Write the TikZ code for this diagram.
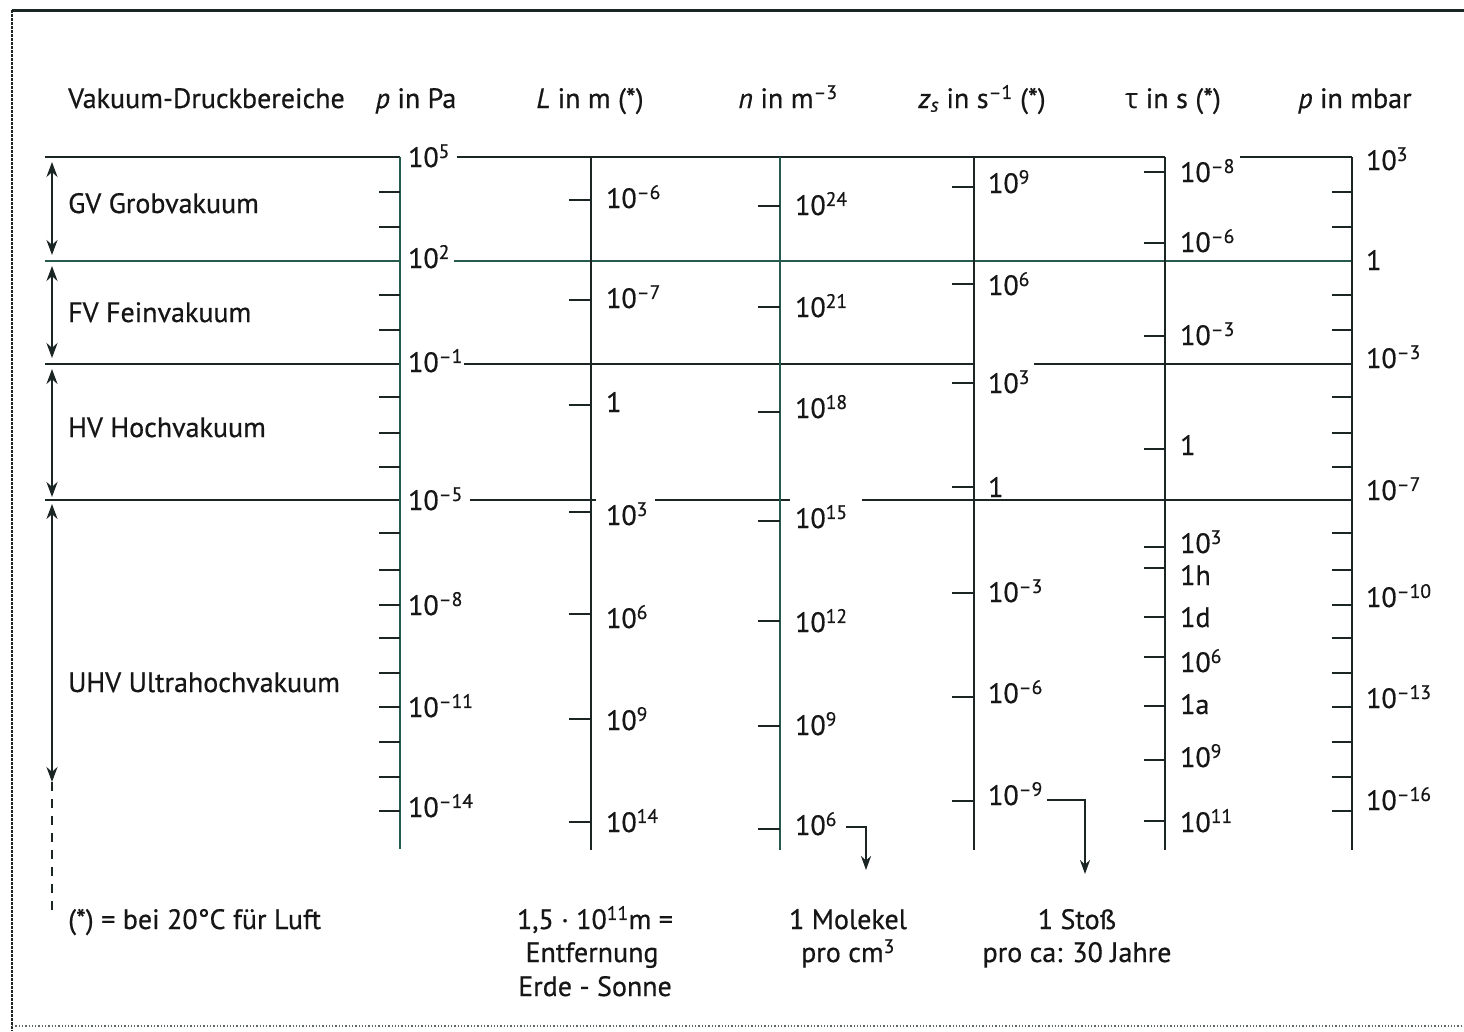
\documentclass[tikz,border=0pt]{standalone}
\usepackage{fontspec}
\setmainfont{PT Sans}[FakeBold=0.6]
\newfontfamily\grk{Open Sans}
\usetikzlibrary{arrows.meta}
\definecolor{ink}{HTML}{1B2523}
\definecolor{axgreen}{HTML}{275A4E}
\definecolor{txt}{HTML}{161616}
\newcommand\tp[1]{10\textsuperscript{#1}}
\tikzset{
  lbl/.style={anchor=base west, inner sep=0pt, text=txt, font=\fontsize{28}{33}\selectfont},
  ctr/.style={anchor=base, inner sep=0pt, text=txt, font=\fontsize{28}{33}\selectfont},
  axisline/.style={line width=2.8pt, draw=ink},
  tck/.style={line width=2.8pt, draw=ink},
  hline/.style={line width=2.4pt, draw=ink},
  rng/.style={line width=2.2pt, draw=ink, {Stealth[length=15pt,width=11pt]}-{Stealth[length=15pt,width=11pt]}},
  conn/.style={line width=2.2pt, draw=ink, -{Stealth[length=14pt,width=10pt]}},
}
\begin{document}
\begin{tikzpicture}[x=1pt,y=-1pt]
\useasboundingbox (0,0) rectangle (1464,1031);
\fill[white] (0,0) rectangle (1464,1031);
% frame
\draw[line width=3pt, ink] (12,10) -- (1464,10);
\draw[line width=1.8pt, ink, dash pattern=on 3pt off 1pt] (12,10) -- (12,1031);
\draw[line width=1.3pt, ink!70, dotted] (12,1026) -- (1464,1026);

% header
\node[lbl] (h0) at (68,108) {Vakuum-Druckbereiche};
\node[ctr] (h1) at (416,108) {\textit{p} in Pa};
\node[ctr] (h2) at (590,108) {\textit{L} in m (*)};
\node[ctr] (h3) at (788,108) {\textit{n} in m\textsuperscript{–3}};
\node[ctr] (h4) at (982,108) {\textit{z}\textsubscript{\textit{s}} in s\textsuperscript{–1} (*)};
\node[ctr] (h5) at (1173,108) {{\grk τ} in s (*)};
\node[ctr] (h6) at (1355,108) {\textit{p} in mbar};

% horizontal range lines
\draw[hline] (45,157) -- (400,157);
\draw[hline] (457,157) -- (1165,157);
\draw[hline] (1240,157) -- (1352,157);
\draw[hline, draw=axgreen] (45,261) -- (400,261);
\draw[hline, draw=axgreen] (454,261) -- (1352,261);
\draw[hline] (45,364) -- (400,364);
\draw[hline] (464,364) -- (974,364);
\draw[hline] (1034,364) -- (1352,364);
\draw[hline] (45,500) -- (400,500);
\draw[hline] (470,500) -- (596,500);
\draw[hline] (655,500) -- (790,500);
\draw[hline] (862,500) -- (1352,500);

% vertical axes
\draw[axisline, draw=axgreen] (400,157) -- (400,849);
\draw[axisline] (591,157) -- (591,850);
\draw[axisline, draw=axgreen] (780,157) -- (780,850);
\draw[axisline] (974,157) -- (974,850);
\draw[axisline] (1165,157) -- (1165,850);
\draw[axisline] (1352,157) -- (1352,850);

% ticks
\foreach \y in {192,227,295,330,397,433,467,533,570,605,638,673,707,742,777,811}{
  \draw[tck] (379,\y) -- (400,\y);
  \draw[tck] (1332,\y) -- (1352,\y);
}
\foreach \y in {200,300,405,512,614,719,822}{\draw[tck] (569,\y) -- (591,\y);}
\foreach \y in {206,307,412,521,621,726,829}{\draw[tck] (758,\y) -- (780,\y);}
\foreach \y in {187,284,383,487,593,697,801}{\draw[tck] (952,\y) -- (974,\y);}
\foreach \y in {172,243,336,449,547,568,617,657,706,760,821}{\draw[tck] (1144,\y) -- (1165,\y);}

% Pa labels
\node[lbl] (pa5) at (408,167) {\tp{5}};
\node[lbl] (pa2) at (408,268) {\tp{2}};
\node[lbl] (pa-1) at (408,372) {\tp{–1}};
\node[lbl] (pa-5) at (408,510) {\tp{–5}};
\node[lbl] (pa-8) at (408,615) {\tp{–8}};
\node[lbl] (pa-11) at (408,717) {\tp{–11}};
\node[lbl] (pa-14) at (408,817) {\tp{–14}};

% L labels
\node[lbl] (L1) at (606,208) {\tp{–6}};
\node[lbl] (L2) at (606,308) {\tp{–7}};
\node[lbl] (L3) at (606,412) {1};
\node[lbl] (L4) at (606,525) {\tp{3}};
\node[lbl] (L5) at (606,628) {\tp{6}};
\node[lbl] (L6) at (606,730) {\tp{9}};
\node[lbl] (L7) at (606,832) {\tp{14}};

% n labels
\node[lbl] (n24) at (795,215) {\tp{24}};
\node[lbl] (n21) at (795,317) {\tp{21}};
\node[lbl] (n18) at (795,418) {\tp{18}};
\node[lbl] (n15) at (795,528) {\tp{15}};
\node[lbl] (n12) at (795,632) {\tp{12}};
\node[lbl] (n9) at (795,735) {\tp{9}};
\node[lbl] (n6) at (795,835) {\tp{6}};

% z labels
\node[lbl] (z9) at (988,193) {\tp{9}};
\node[lbl] (z6) at (988,295) {\tp{6}};
\node[lbl] (z3) at (988,393) {\tp{3}};
\node[lbl] (z0) at (988,497) {1};
\node[lbl] (zm3) at (988,602) {\tp{–3}};
\node[lbl] (zm6) at (988,703) {\tp{–6}};
\node[lbl] (zm9) at (988,805) {\tp{–9}};

% tau labels
\node[lbl] (t1) at (1180,182) {\tp{–8}};
\node[lbl] (t2) at (1180,252) {\tp{–6}};
\node[lbl] (t3) at (1180,345) {\tp{–3}};
\node[lbl] (t4) at (1180,455) {1};
\node[lbl] (t5) at (1180,553) {\tp{3}};
\node[lbl] (t6) at (1180,585) {1h};
\node[lbl] (t7) at (1180,627) {1d};
\node[lbl] (t8) at (1180,672) {\tp{6}};
\node[lbl] (t9) at (1180,714) {1a};
\node[lbl] (t10) at (1180,767) {\tp{9}};
\node[lbl] (t11) at (1180,832) {\tp{11}};

% mbar labels
\node[lbl] (m3) at (1366,170) {\tp{3}};
\node[lbl] (m0) at (1366,270) {1};
\node[lbl] (mm3) at (1366,368) {\tp{–3}};
\node[lbl] (mm7) at (1366,500) {\tp{–7}};
\node[lbl] (mm10) at (1366,607) {\tp{–10}};
\node[lbl] (mm13) at (1366,708) {\tp{–13}};
\node[lbl] (mm16) at (1366,810) {\tp{–16}};

% range arrows and names
\coordinate (g1) at (52,162); \coordinate (g2) at (52,255);
\coordinate (f1) at (52,266); \coordinate (f2) at (52,358);
\coordinate (v1) at (52,369); \coordinate (v2) at (52,497);
\coordinate (u1) at (52,504); \coordinate (u2) at (52,782);
\coordinate (u3) at (52,915);
\draw[rng] (g1) -- (g2);
\draw[rng] (f1) -- (f2);
\draw[rng] (v1) -- (v2);
\draw[rng] (u1) -- (u2);
\draw[line width=2pt, draw=ink, dash pattern=on 9pt off 8pt] (u2) -- (u3);
\node[lbl] (gv) at (68,213) {GV Grobvakuum};
\node[lbl] (fv) at (68,322) {FV Feinvakuum};
\node[lbl] (hv) at (68,437) {HV Hochvakuum};
\node[lbl] (uhv) at (68,692) {UHV Ultrahochvakuum};

% bottom notes
\node[lbl] (note) at (68,929) {(*) = bei 20°C für Luft};
\node[ctr] (b1a) at (595,929) {1,5 · 10\textsuperscript{11}m =};
\node[ctr] (b1b) at (592,962) {Entfernung};
\node[ctr] (b1c) at (595,996) {Erde - Sonne};
\node[ctr] (b2a) at (848,929) {1 Molekel};
\node[ctr] (b2b) at (848,962) {pro cm\textsuperscript{3}};
\node[ctr] (b3a) at (1077,929) {1 Stoß};
\node[ctr] (b3b) at (1077,962) {pro ca: 30 Jahre};

% pointer arrows
\coordinate (a1) at (866,870);
\coordinate (a2) at (1085,874);
\draw[conn] ([xshift=9pt,yshift=8pt]n6.base east) -| (a1);
\draw[conn] ([xshift=4pt,yshift=5pt]zm9.base east) -| (a2);
\end{tikzpicture}
\end{document}
